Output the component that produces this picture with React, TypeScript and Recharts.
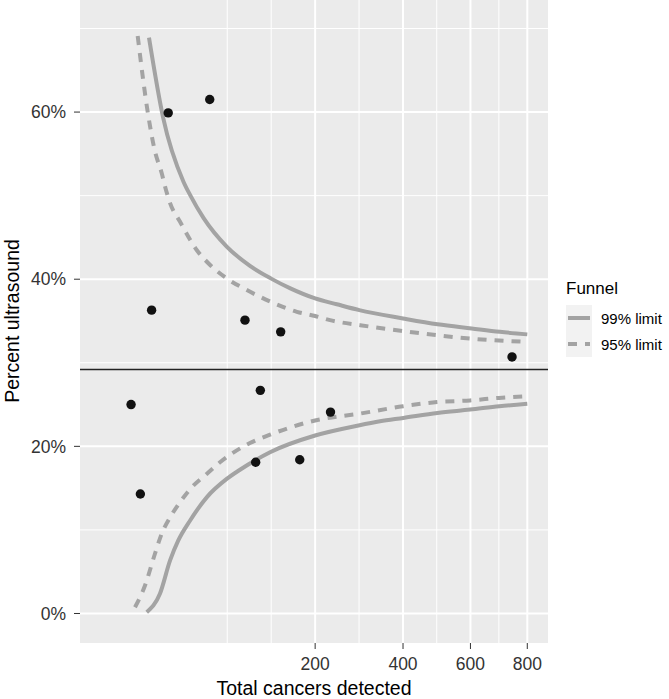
import React from "react";
import {
  ComposedChart,
  Line,
  Scatter,
  XAxis,
  YAxis,
  CartesianGrid,
  ReferenceLine,
} from "recharts";

// hospitals: total cancers detected vs percent detected by ultrasound
const hospitalN = [3.5, 6.2, 10.5, 18.9, 50.6, 89.6, 103.6, 110, 140.3, 172, 230, 743.5];
const hospitalPct = [25.0, 14.3, 36.3, 59.9, 61.5, 35.1, 18.1, 26.7, 33.7, 18.4, 24.1, 30.7];

const overallPct = 29.2;

// funnel limits
const upper99N = [9.4, 16, 28.7, 34, 45, 68, 96, 125, 156, 200, 243, 292, 400, 497, 604, 700, 800];
const upper99Pct = [68.9, 59.4, 51.7, 50.0, 47.3, 43.9, 41.6, 40.1, 38.9, 37.7, 37.0, 36.3, 35.3, 34.6, 34.1, 33.7, 33.4];
const upper95N = [5.35, 9.1, 12, 15.3, 17.1, 20, 26.3, 39, 51, 68, 92, 125, 167, 200, 229, 294, 400, 496, 599, 800];
const upper95Pct = [69.1, 59.6, 55.3, 52.7, 51.1, 49.1, 46.9, 43.5, 41.7, 40.1, 38.7, 37.3, 36.1, 35.6, 35.1, 34.5, 33.8, 33.3, 32.9, 32.5];
const lower99N = [8.5, 14.4, 20, 25.2, 33.6, 47.8, 68, 83.4, 124, 200, 290, 341, 401, 497, 599, 698, 800];
const lower99Pct = [0.16, 2.36, 6.35, 8.74, 11.1, 13.9, 16.1, 17.2, 19.3, 21.3, 22.5, 23.0, 23.4, 24.0, 24.4, 24.8, 25.1];
const lower95N = [4.55, 7.84, 12, 15.3, 20, 26.3, 35, 47.8, 60.8, 96, 124, 200, 291, 400, 496, 599, 697, 800];
const lower95Pct = [0.75, 3.35, 7.15, 9.54, 11.5, 13.3, 15.1, 16.7, 18.1, 20.4, 21.4, 23.1, 23.9, 24.8, 25.3, 25.5, 25.8, 26.0];

const xTicks = [200, 400, 600, 800];
const xMinor = [68.6, 125.7, 291.4, 495, 696.4];
const yTicks = [0, 20, 40, 60];
const yMinor = [10, 30, 50, 70];

const zip = (n: number[], p: number[]) => n.map((v, i) => ({ n: v, pct: p[i] }));

const points = zip(hospitalN, hospitalPct);
const u99 = zip(upper99N, upper99Pct);
const u95 = zip(upper95N, upper95Pct);
const l99 = zip(lower99N, lower99Pct);
const l95 = zip(lower95N, lower95Pct);

const FONT = '"Liberation Sans", Arial, Helvetica, sans-serif';
const LIMIT = "#A3A3A3";

const Dot = (p: any) => <circle cx={p.cx} cy={p.cy} r={4.7} fill="#111" />;

export default function App() {
  return (
    <div
      style={{
        position: "absolute",
        left: 0,
        top: 0,
        width: 669,
        height: 699,
        background: "#fff",
        fontFamily: FONT,
      }}
    >
      <ComposedChart
        width={669}
        height={699}
        margin={{ top: 0, right: 121, bottom: 0, left: 0 }}
        style={{ fontFamily: FONT }}
      >
        <CartesianGrid
          fill="#EBEBEB"
          stroke="#fff"
          strokeWidth={1}
          verticalValues={xMinor}
          horizontalValues={yMinor}
        />
        <CartesianGrid
          stroke="#fff"
          strokeWidth={2}
          verticalValues={xTicks}
          horizontalValues={yTicks}
        />
        <XAxis
          dataKey="n"
          type="number"
          scale="sqrt"
          domain={[-2.35, 880]}
          allowDataOverflow
          ticks={xTicks}
          height={56}
          axisLine={false}
          tickSize={6}
          tickMargin={9}
          tickLine={{ stroke: "#333" }}
          tick={{ fontSize: 17.5, fill: "#333" }}
        />
        <YAxis
          dataKey="pct"
          type="number"
          domain={[-3.53, 73.41]}
          allowDataOverflow
          ticks={yTicks}
          width={80}
          axisLine={false}
          tickSize={6}
          tickMargin={8}
          tickLine={{ stroke: "#333" }}
          tick={{ fontSize: 17.5, fill: "#333" }}
          tickFormatter={(v) => `${v}%`}
        />
        <ReferenceLine y={overallPct} stroke="#222" strokeWidth={1.5} />
        <Line data={u99} dataKey="pct" type="monotone" stroke={LIMIT} strokeWidth={4} dot={false} isAnimationActive={false} />
        <Line data={l99} dataKey="pct" type="monotone" stroke={LIMIT} strokeWidth={4} dot={false} isAnimationActive={false} />
        <Line data={u95} dataKey="pct" type="monotone" stroke={LIMIT} strokeWidth={4} strokeDasharray="9 8" dot={false} isAnimationActive={false} />
        <Line data={l95} dataKey="pct" type="monotone" stroke={LIMIT} strokeWidth={4} strokeDasharray="9 8" dot={false} isAnimationActive={false} />
        <Scatter data={points} dataKey="pct" shape={Dot} isAnimationActive={false} />
      </ComposedChart>

      <div
        style={{
          position: "absolute",
          left: 0,
          width: 628,
          top: 677,
          textAlign: "center",
          fontSize: 19.5,
          color: "#000",
          whiteSpace: "nowrap",
        }}
      >
        Total cancers detected
      </div>
      <div
        style={{
          position: "absolute",
          left: 12,
          top: 321,
          transform: "translate(-50%, -50%) rotate(-90deg)",
          fontSize: 19.5,
          color: "#000",
          whiteSpace: "nowrap",
        }}
      >
        Percent ultrasound
      </div>

      <div style={{ position: "absolute", left: 566, top: 279, fontSize: 17, color: "#000" }}>
        Funnel
      </div>
      {[
        { label: "99% limit", dash: undefined, top: 305 },
        { label: "95% limit", dash: "9 8", top: 331 },
      ].map((k) => (
        <div key={k.label} style={{ position: "absolute", left: 566, top: k.top, height: 26, display: "flex", alignItems: "center" }}>
          <svg width={26} height={26}>
            <rect width={26} height={26} fill="#F2F2F2" />
            <line x1={2} x2={24} y1={13} y2={13} stroke={LIMIT} strokeWidth={4} strokeDasharray={k.dash} />
          </svg>
          <span style={{ marginLeft: 9, fontSize: 15, color: "#000", whiteSpace: "nowrap" }}>{k.label}</span>
        </div>
      ))}
    </div>
  );
}
